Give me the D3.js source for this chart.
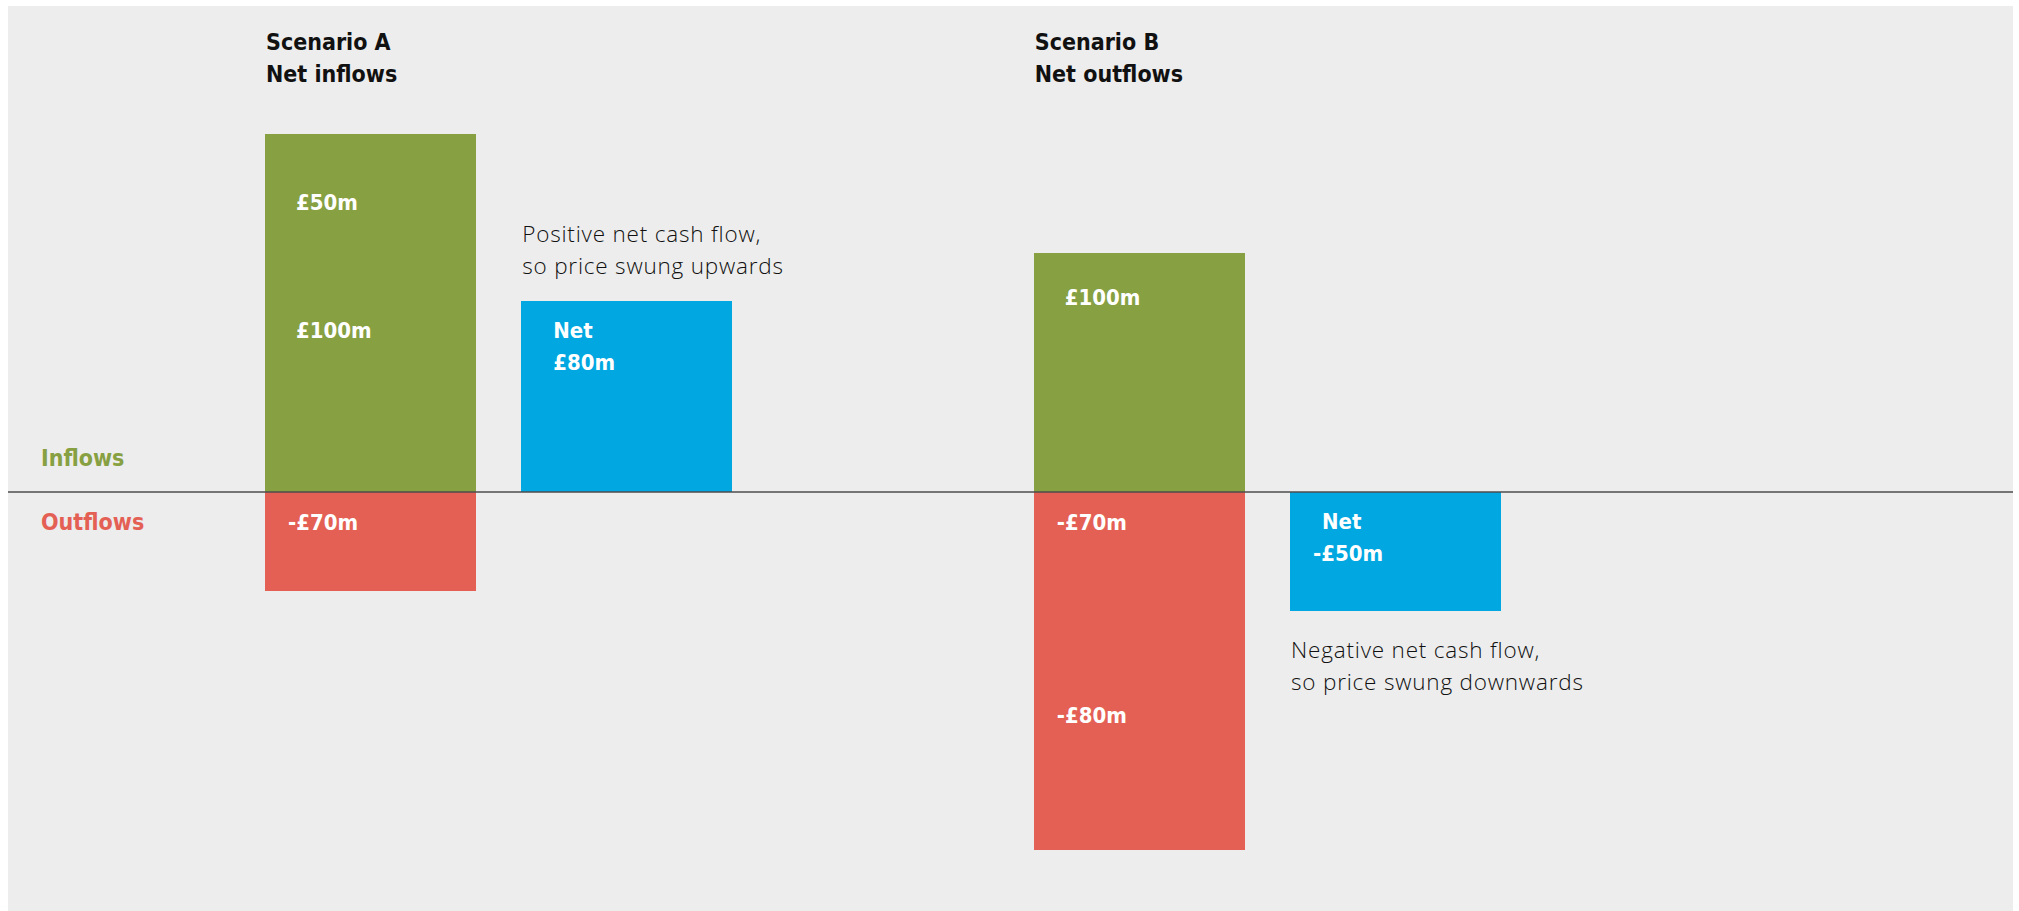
<!DOCTYPE html>
<html>
<head>
<meta charset="utf-8">
<script src="https://cdn.jsdelivr.net/npm/d3@7"></script>
<style>
  html, body { margin: 0; padding: 0; background: #ffffff; }
  svg { display: block; }
  .bold { font-family: "Liberation Sans Narrow", "DejaVu Sans Condensed", "Arial Narrow", sans-serif; font-weight: 700; }
  .light { font-family: "Open Sans", Roboto, sans-serif; font-weight: 300; letter-spacing: 0.8px; }
</style>
</head>
<body>
<svg id="chart" width="2019" height="911"></svg>
<script>
// ---- data ----
const columns = ["A-flows", "A-net", "spacer", "B-flows", "B-net"];
const scenarioTitles = [["Scenario A", "Net inflows"], ["Scenario B", "Net outflows"]];
// segments: column, drawn value, label text
const inflowColumns = ["A-flows", "A-flows", "B-flows"];
const inflowValues = [100, 50, 100];
const inflowLabels = ["£100m", "£50m", "£100m"];
const outflowColumns = ["A-flows", "B-flows", "B-flows"];
const outflowValues = [-41.5, -70, -80];
const outflowLabels = ["-£70m", "-£70m", "-£80m"];
const netColumns = ["A-net", "B-net"];
const netValues = [80, -50];
const netLabels = ["£80m", "-£50m"];
const notes = [["Positive net cash flow,", "so price swung upwards"], ["Negative net cash flow,", "so price swung downwards"]];
const sideLabels = ["Inflows", "Outflows"];

const colors = { inflow: "#87a042", outflow: "#e46055", net: "#00a7e1", bg: "#ededed", axis: "#4d4d4d" };

const svg = d3.select("#chart");
const W = 2019, H = 911;

// background panel
svg.append("rect").attr("x", 8).attr("y", 6).attr("width", 2005).attr("height", H - 6).attr("fill", colors.bg);

const x = d3.scaleBand().domain(columns).range([265, 1501.2]).paddingInner(0.176).paddingOuter(0);
const y = d3.scaleLinear().domain([-150, 150]).range([850, 134]);

// build stacked segments
function stack(cols, vals, labels, kind) {
  const acc = {};
  return cols.map((c, i) => {
    const base = acc[c] || 0;
    const top = base + vals[i];
    acc[c] = top;
    return { col: c, y0: base, y1: top, label: labels[i], kind };
  });
}
const inSegs = stack(inflowColumns, inflowValues, inflowLabels, "inflow");
const outSegs = stack(outflowColumns, outflowValues, outflowLabels, "outflow");
const netSegs = stack(netColumns, netValues, netLabels, "net");
const allSegs = inSegs.concat(outSegs, netSegs);

svg.append("g").attr("shape-rendering", "crispEdges").selectAll("rect").data(allSegs).join("rect")
  .attr("x", d => Math.round(x(d.col)))
  .attr("width", Math.round(x.bandwidth()))
  .attr("y", d => Math.round(y(Math.max(d.y0, d.y1))))
  .attr("height", d => Math.round(y(Math.min(d.y0, d.y1))) - Math.round(y(Math.max(d.y0, d.y1))))
  .attr("fill", d => colors[d.kind]);

// baseline
svg.append("line").attr("x1", 8).attr("x2", 2013).attr("y1", y(0)).attr("y2", y(0))
  .attr("stroke", colors.axis).attr("stroke-width", 1.5);

// titles
const titleCols = ["A-flows", "B-flows"];
scenarioTitles.forEach((t, i) => {
  const g = svg.append("text").attr("class", "bold").attr("font-size", 23).attr("fill", "#111");
  t.forEach((line, j) => g.append("tspan").attr("x", x(titleCols[i]) + 1).attr("y", 50 + j * 32).text(line));
});

// segment labels
const labelFont = 22;
function segLabelX(d) { return x(d.col) + (d.label.startsWith("-") ? 23 : 31); }
// label offsets from the top edge of the segment (in reading direction)
const inOffsets = [85, 76, 52];
inSegs.forEach((d, i) => {
  svg.append("text").attr("class", "bold").attr("font-size", labelFont).attr("fill", "#fff")
    .attr("x", segLabelX(d)).attr("y", y(d.y1) + inOffsets[i]).text(d.label);
});
const outOffsets = [38, 38, 64];
outSegs.forEach((d, i) => {
  svg.append("text").attr("class", "bold").attr("font-size", labelFont).attr("fill", "#fff")
    .attr("x", segLabelX(d)).attr("y", y(d.y0) + outOffsets[i]).text(d.label);
});
netSegs.forEach(d => {
  const top = y(Math.max(d.y0, d.y1));
  const g = svg.append("text").attr("class", "bold").attr("font-size", labelFont).attr("fill", "#fff");
  g.append("tspan").attr("x", x(d.col) + 32).attr("y", top + 37).text("Net");
  g.append("tspan").attr("x", segLabelX(d) + (d.label.startsWith("-") ? 0 : 1)).attr("y", top + 69).text(d.label);
});

// notes
netSegs.forEach((d, i) => {
  const g = svg.append("text").attr("class", "light").attr("font-size", 22.5).attr("fill", "#111");
  const positive = d.y1 > 0;
  const ref = positive ? y(d.y1) - 59 : y(d.y1) + 47;
  notes[i].forEach((line, j) => g.append("tspan").attr("x", x(d.col) + 1).attr("y", ref + j * 32).text(line));
});

// side labels
svg.append("text").attr("class", "bold").attr("font-size", 23).attr("fill", colors.inflow)
  .attr("x", 41).attr("y", y(0) - 26).text(sideLabels[0]);
svg.append("text").attr("class", "bold").attr("font-size", 23).attr("fill", colors.outflow)
  .attr("x", 41).attr("y", y(0) + 38).text(sideLabels[1]);
</script>
</body>
</html>
